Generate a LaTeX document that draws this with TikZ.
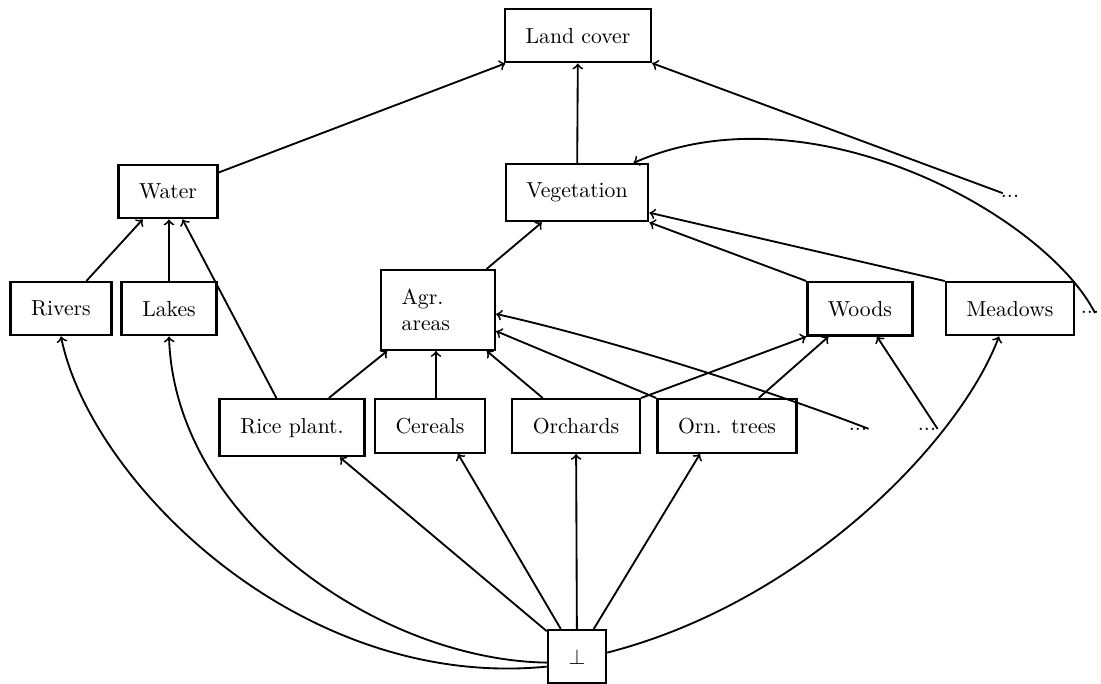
\documentclass[tikz,border=0pt]{standalone}
\usetikzlibrary{calc}
\begin{document}
\begin{tikzpicture}[x=0.4608pt,y=-0.4608pt,
  box/.style={draw, line width=1.1pt, inner xsep=9.5pt, inner ysep=8.7pt, anchor=north},
  dotnode/.style={inner sep=0.5pt, anchor=base},
  arr/.style={->, line width=0.85pt},
]
\useasboundingbox (0,0) rectangle (1101,684);
\node[box] (land) at (578,8) {Land cover};
\node[box] (water) at (168,164) {Water};
\node[box] (veg) at (577,163) {Vegetation};
\node[dotnode] (d1) at (1010,197) {...};
\node[box] (rivers) at (61,281) {Rivers};
\node[box] (lakes) at (169,281) {Lakes};
\node[box, text width=33.5pt, align=left] (agr) at (438,269) {Agr.\\areas};
\node[box] (woods) at (860,281) {Woods};
\node[box] (meadows) at (1010,281) {Meadows};
\node[dotnode] (d2) at (1090,313) {...};
\node[box] (rice) at (292,398) {Rice plant.};
\node[box] (cereals) at (430,398) {Cereals};
\node[box] (orch) at (576,398) {Orchards};
\node[box] (orn) at (727,398) {Orn. trees};
\node[dotnode] (d3) at (858,430) {...};
\node[dotnode] (d4) at (927,430) {...};
\node[box] (bot) at (577,629) {$\perp$};

\draw[arr] (water) -- (land);
\draw[arr] (veg) -- (land);
\draw[arr] (d1) -- (land);
\draw[arr] ($(d2.base)+(5,0)$) .. controls (1045,215) and (810,85) .. ($(veg.north east)+(-16,0)$);
\draw[arr] (agr) -- (veg);
\draw[arr] (woods.north west) -- (veg.south east);
\draw[arr] (meadows.north west) -- ($(veg.east)+(0,20)$);
\draw[arr] (rivers) -- (water);
\draw[arr] (lakes.north) -- (lakes.north |- water.south);
\draw[arr] (rice) -- (water);
\draw[arr] (rice) -- (agr);
\draw[arr] ($(cereals.north)+(6,0)$) -- ($(cereals.north |- agr.south)+(6,0)$);
\draw[arr] (orch) -- (agr);
\draw[arr] (orn.north west) -- (agr.-20);
\draw[arr] (orch.north east) -- (woods.south west);
\draw[arr] (orn) -- (woods);
\draw[arr] (d4.east) -- ($(woods.south)+(17,0)$);
\draw[arr] (d3.east) .. controls (800,402) and (630,344) .. ($(agr.east)+(0,4)$);
\draw[arr] (bot) -- ($(rice.south)+(48,0)$);
\draw[arr] (bot) -- ($(cereals.south)+(28,0)$);
\draw[arr] (bot) -- (orch);
\draw[arr] (bot) -- ($(orn.south)+(-27,0)$);
\draw[arr] ($(bot.west)+(0,10)$) .. controls (299,691) and (90,480) .. (rivers.south);
\draw[arr] ($(bot.west)+(0,6)$) .. controls (380,660) and (175,520) .. (lakes.south);
\draw[arr] ($(bot.east)+(0,-4)$) .. controls (805,602) and (960,440) .. ($(meadows.south)+(-11,0)$);
\end{tikzpicture}
\end{document}
